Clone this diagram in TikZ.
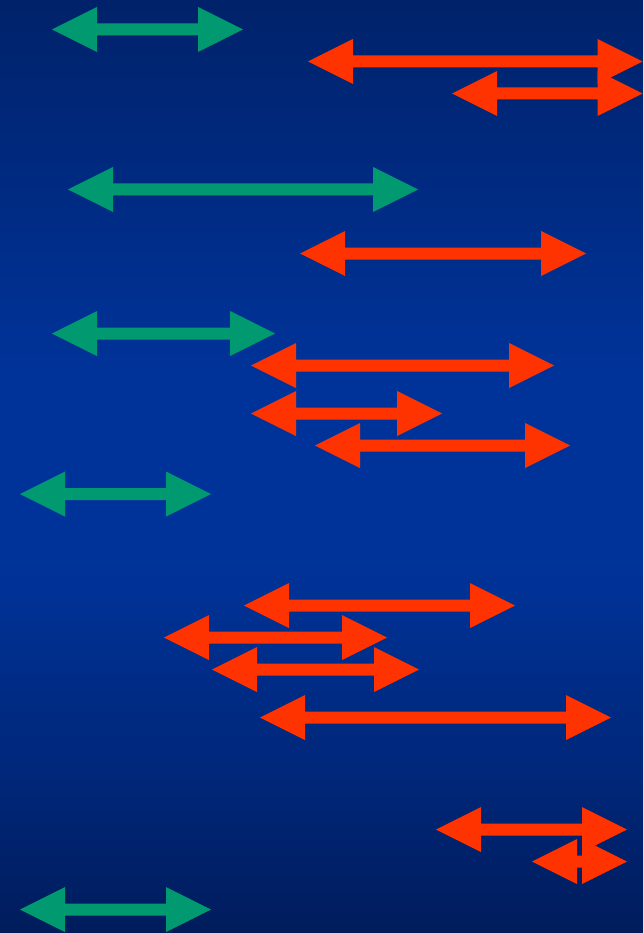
\documentclass[tikz,border=0pt]{standalone}
\usetikzlibrary{shadings}
\definecolor{bgtop}{RGB}{0,34,106}
\definecolor{bgmid}{RGB}{0,51,153}
\definecolor{bgbot}{RGB}{0,28,92}
\definecolor{arrgreen}{RGB}{0,153,112}
\definecolor{arrred}{RGB}{255,51,0}
% vertical background shading; the filled area spans 25bp (bottom) to 75bp (top)
\pgfdeclareverticalshading{bgshade}{100bp}{%
  color(0bp)=(bgbot); color(25bp)=(bgbot); color(33bp)=(bgbot!55!bgmid);
  color(45bp)=(bgmid); color(55bp)=(bgmid); color(75bp)=(bgtop);
  color(100bp)=(bgtop)}
% double-headed block arrow: \dblarrow{colour}{left tip x}{right tip x}{y}
\newcommand{\dblarrow}[4]{%
  \fill[#1] (#2,#4) -- (#2+45,#4-22.5) -- (#2+45,#4-6) -- (#3-45,#4-6)
    -- (#3-45,#4-22.5) -- (#3,#4) -- (#3-45,#4+22.5) -- (#3-45,#4+6)
    -- (#2+45,#4+6) -- (#2+45,#4+22.5) -- cycle;}
\begin{document}
\begin{tikzpicture}[x=1pt,y=-1pt]
\useasboundingbox (0,0) rectangle (643,933);
\shade[shading=bgshade] (0,0) rectangle (643,933);
% green arrows
\dblarrow{arrgreen}{52}{243}{29.5}
\dblarrow{arrgreen}{68}{418}{189.5}
\dblarrow{arrgreen}{52}{275}{333.5}
\dblarrow{arrgreen}{20}{211}{494}
\dblarrow{arrgreen}{20}{211}{909.5}
% red arrows
\dblarrow{arrred}{308}{642.5}{61.5}
\dblarrow{arrred}{452}{642.5}{93.5}
\dblarrow{arrred}{300}{586}{253.5}
\dblarrow{arrred}{251}{554}{365.5}
\dblarrow{arrred}{251}{442}{413.5}
\dblarrow{arrred}{315}{570}{445.5}
\dblarrow{arrred}{244}{515}{605.5}
\dblarrow{arrred}{164}{387}{637.5}
\dblarrow{arrred}{212}{419}{669.5}
\dblarrow{arrred}{260}{611}{717.5}
\dblarrow{arrred}{436}{627}{829.5}
\dblarrow{arrred}{532}{627}{861.5}
\end{tikzpicture}
\end{document}
